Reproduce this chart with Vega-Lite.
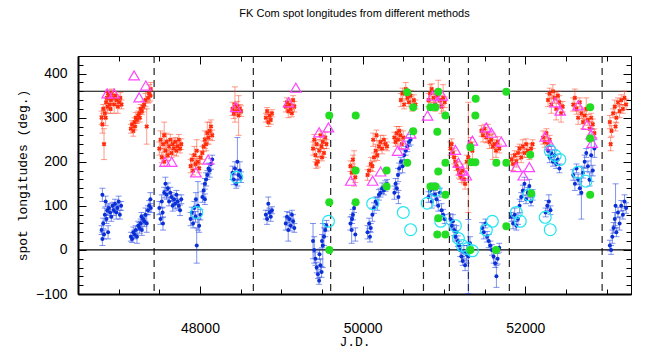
{
"$schema": "https://vega.github.io/schema/vega-lite/v6.json",
"width": 553, "height": 238,
"autosize": {"type": "none"},
"padding": {"left": 78, "top": 56, "right": 15, "bottom": 57},
"background": "white",
"title": {"text": "FK Com spot longitudes from different methods", "font": "Liberation Sans", "fontSize": 11, "fontWeight": "normal", "color": "#000", "offset": 30, "anchor": "middle"},
"config": {"view": {"stroke": "black", "strokeWidth": 1}, "axis": {"grid": false}},
"datasets": {
"vl": [{"t":47436},{"t":48656},{"t":49607},{"t":50748},{"t":51067},{"t":51301},{"t":51804},{"t":52945}],
"hl": [{"l":0},{"l":360}],
"red": [
{"t":46790,"l":300,"e":15},{"t":46800,"l":285,"e":20},{"t":46810,"l":320,"e":10},{"t":46820,"l":240,"e":35},{"t":46830,"l":310,"e":12},{"t":46840,"l":300,"e":18},{"t":46845,"l":335,"e":10},{"t":46855,"l":345,"e":12},{"t":46865,"l":325,"e":15},{"t":46870,"l":355,"e":8},{"t":46880,"l":350,"e":10},{"t":46890,"l":330,"e":12},{"t":46900,"l":320,"e":10},{"t":46905,"l":340,"e":8},{"t":46915,"l":355,"e":10},{"t":46930,"l":345,"e":15},{"t":46945,"l":330,"e":20},{"t":46960,"l":350,"e":10},{"t":46975,"l":340,"e":12},{"t":46990,"l":325,"e":15},{"t":47005,"l":335,"e":10},{"t":47020,"l":345,"e":12},{"t":47035,"l":330,"e":10},
{"t":47150,"l":275,"e":10},{"t":47165,"l":285,"e":8},{"t":47180,"l":270,"e":12},{"t":47195,"l":290,"e":10},{"t":47200,"l":280,"e":8},{"t":47210,"l":300,"e":12},{"t":47225,"l":295,"e":8},{"t":47240,"l":305,"e":10},{"t":47255,"l":310,"e":12},{"t":47260,"l":300,"e":10},{"t":47270,"l":320,"e":10},{"t":47285,"l":315,"e":8},{"t":47300,"l":325,"e":12},{"t":47315,"l":330,"e":10},{"t":47330,"l":340,"e":15},{"t":47345,"l":280,"e":40},{"t":47360,"l":345,"e":12},{"t":47375,"l":355,"e":20},{"t":47390,"l":350,"e":12},{"t":47395,"l":365,"e":15},
{"t":47500,"l":230,"e":15},{"t":47515,"l":250,"e":20},{"t":47530,"l":210,"e":12},{"t":47545,"l":240,"e":25},{"t":47560,"l":260,"e":30},{"t":47560,"l":200,"e":10},{"t":47575,"l":225,"e":15},{"t":47590,"l":245,"e":20},{"t":47605,"l":215,"e":12},{"t":47620,"l":235,"e":15},{"t":47635,"l":250,"e":12},{"t":47650,"l":220,"e":10},{"t":47665,"l":240,"e":12},{"t":47680,"l":230,"e":15},{"t":47695,"l":245,"e":10},{"t":47710,"l":225,"e":12},{"t":47725,"l":235,"e":10},{"t":47740,"l":250,"e":12},{"t":47755,"l":230,"e":10},{"t":47770,"l":240,"e":12},
{"t":47885,"l":190,"e":15},{"t":47900,"l":205,"e":12},{"t":47915,"l":180,"e":10},{"t":47930,"l":215,"e":20},{"t":47945,"l":195,"e":12},{"t":47960,"l":225,"e":25},{"t":47975,"l":200,"e":12},{"t":47990,"l":185,"e":10},{"t":48005,"l":210,"e":15},{"t":48030,"l":220,"e":15},{"t":48045,"l":235,"e":12},{"t":48060,"l":250,"e":20},{"t":48075,"l":240,"e":15},{"t":48090,"l":265,"e":25},{"t":48105,"l":255,"e":15},{"t":48120,"l":270,"e":20},{"t":48135,"l":280,"e":15},{"t":48150,"l":260,"e":12},
{"t":48400,"l":320,"e":15},{"t":48415,"l":310,"e":12},{"t":48430,"l":330,"e":40},{"t":48445,"l":315,"e":10},{"t":48460,"l":325,"e":12},{"t":48475,"l":305,"e":45},{"t":48490,"l":320,"e":10},{"t":48505,"l":315,"e":12},
{"t":48810,"l":300,"e":10},{"t":48825,"l":315,"e":8},{"t":48840,"l":290,"e":10},{"t":48855,"l":305,"e":8},{"t":48870,"l":295,"e":10},{"t":48885,"l":310,"e":8},
{"t":49055,"l":325,"e":12},{"t":49070,"l":335,"e":10},{"t":49085,"l":315,"e":15},{"t":49100,"l":330,"e":12},{"t":49115,"l":320,"e":10},{"t":49130,"l":310,"e":8},{"t":49145,"l":340,"e":10},{"t":49160,"l":325,"e":12},
{"t":49390,"l":230,"e":15},{"t":49405,"l":250,"e":12},{"t":49420,"l":215,"e":15},{"t":49430,"l":195,"e":10},{"t":49435,"l":240,"e":10},{"t":49450,"l":200,"e":12},{"t":49465,"l":225,"e":15},{"t":49480,"l":260,"e":10},{"t":49495,"l":235,"e":12},{"t":49500,"l":210,"e":8},{"t":49510,"l":245,"e":15},{"t":49525,"l":220,"e":10},{"t":49540,"l":255,"e":12},{"t":49555,"l":240,"e":10},
{"t":49850,"l":190,"e":12},{"t":49865,"l":175,"e":15},{"t":49880,"l":205,"e":10},{"t":49895,"l":185,"e":40},{"t":49910,"l":165,"e":12},
{"t":50060,"l":170,"e":12},{"t":50080,"l":180,"e":10},{"t":50100,"l":195,"e":15},{"t":50120,"l":190,"e":12},{"t":50130,"l":250,"e":15},{"t":50140,"l":210,"e":10},{"t":50160,"l":225,"e":15},{"t":50170,"l":260,"e":12},{"t":50180,"l":215,"e":12},{"t":50200,"l":235,"e":10},{"t":50220,"l":245,"e":15},{"t":50240,"l":230,"e":12},{"t":50260,"l":250,"e":10},{"t":50280,"l":240,"e":12},{"t":50300,"l":235,"e":10},
{"t":50390,"l":255,"e":12},{"t":50405,"l":245,"e":10},{"t":50420,"l":265,"e":15},{"t":50435,"l":250,"e":12},{"t":50450,"l":270,"e":10},{"t":50465,"l":260,"e":12},{"t":50480,"l":240,"e":10},{"t":50500,"l":255,"e":15},
{"t":50470,"l":340,"e":15},{"t":50490,"l":355,"e":12},{"t":50510,"l":330,"e":10},{"t":50530,"l":365,"e":15},{"t":50550,"l":345,"e":12},{"t":50570,"l":335,"e":10},{"t":50590,"l":350,"e":12},{"t":50610,"l":325,"e":10},{"t":50630,"l":340,"e":12},{"t":50650,"l":330,"e":10},
{"t":50810,"l":340,"e":15},{"t":50830,"l":355,"e":20},{"t":50850,"l":365,"e":12},{"t":50870,"l":345,"e":10},{"t":50890,"l":330,"e":15},{"t":50910,"l":350,"e":12},{"t":50930,"l":360,"e":25},{"t":50950,"l":340,"e":10},{"t":50970,"l":325,"e":15},{"t":50990,"l":345,"e":30},{"t":51010,"l":335,"e":12},
{"t":51080,"l":230,"e":15},{"t":51095,"l":240,"e":12},{"t":51110,"l":220,"e":10},{"t":51125,"l":210,"e":15},{"t":51140,"l":200,"e":12},{"t":51155,"l":190,"e":10},{"t":51170,"l":185,"e":15},{"t":51185,"l":175,"e":12},{"t":51200,"l":170,"e":10},{"t":51215,"l":165,"e":12},{"t":51230,"l":180,"e":15},{"t":51245,"l":160,"e":10},{"t":51260,"l":150,"e":12},{"t":51280,"l":200,"e":15},{"t":51300,"l":210,"e":125},{"t":51330,"l":240,"e":15},{"t":51350,"l":225,"e":20},
{"t":51460,"l":270,"e":12},{"t":51480,"l":260,"e":15},{"t":51500,"l":275,"e":10},{"t":51520,"l":255,"e":12},{"t":51540,"l":265,"e":20},{"t":51560,"l":245,"e":15},{"t":51580,"l":250,"e":12},{"t":51600,"l":235,"e":30},{"t":51620,"l":240,"e":10},{"t":51640,"l":225,"e":15},{"t":51660,"l":245,"e":12},{"t":51680,"l":230,"e":10},
{"t":51830,"l":205,"e":12},{"t":51850,"l":195,"e":15},{"t":51870,"l":215,"e":10},{"t":51890,"l":200,"e":12},{"t":51910,"l":220,"e":15},{"t":51930,"l":230,"e":10},{"t":51950,"l":210,"e":12},{"t":51970,"l":235,"e":15},{"t":51990,"l":220,"e":10},{"t":52010,"l":240,"e":12},{"t":52030,"l":225,"e":15},{"t":52050,"l":215,"e":10},{"t":52070,"l":230,"e":12},{"t":52090,"l":240,"e":10},
{"t":52220,"l":255,"e":15},{"t":52240,"l":245,"e":12},{"t":52260,"l":265,"e":10},{"t":52280,"l":240,"e":12},{"t":52300,"l":250,"e":10},{"t":52280,"l":340,"e":15},{"t":52300,"l":355,"e":12},{"t":52320,"l":330,"e":20},{"t":52340,"l":360,"e":15},{"t":52360,"l":345,"e":12},{"t":52380,"l":320,"e":25},{"t":52400,"l":350,"e":10},{"t":52420,"l":335,"e":15},{"t":52440,"l":310,"e":20},{"t":52460,"l":325,"e":12},
{"t":52590,"l":330,"e":15},{"t":52610,"l":345,"e":20},{"t":52630,"l":320,"e":12},{"t":52650,"l":300,"e":15},{"t":52670,"l":335,"e":10},{"t":52690,"l":310,"e":12},{"t":52710,"l":290,"e":15},{"t":52730,"l":305,"e":10},{"t":52750,"l":320,"e":25},{"t":52770,"l":295,"e":12},{"t":52790,"l":275,"e":15},{"t":52810,"l":300,"e":10},{"t":52830,"l":285,"e":12},{"t":52850,"l":265,"e":10},
{"t":53040,"l":290,"e":15},{"t":53050,"l":240,"e":15},{"t":53060,"l":270,"e":12},{"t":53080,"l":310,"e":10},{"t":53100,"l":325,"e":15},{"t":53110,"l":280,"e":10},{"t":53120,"l":300,"e":12},{"t":53140,"l":335,"e":10},{"t":53160,"l":315,"e":15},{"t":53180,"l":340,"e":12},{"t":53200,"l":320,"e":10},{"t":53220,"l":345,"e":15},{"t":53240,"l":330,"e":12}
],
"blue": [
{"t":46790,"l":45,"e":10},{"t":46800,"l":25,"e":15},{"t":46800,"l":125,"e":15},{"t":46810,"l":60,"e":12},{"t":46820,"l":35,"e":10},{"t":46830,"l":80,"e":15},{"t":46840,"l":110,"e":12},{"t":46850,"l":70,"e":10},{"t":46860,"l":90,"e":12},{"t":46870,"l":40,"e":15},{"t":46880,"l":95,"e":10},{"t":46895,"l":85,"e":12},{"t":46910,"l":75,"e":10},{"t":46925,"l":100,"e":8},{"t":46940,"l":90,"e":12},{"t":46955,"l":105,"e":10},{"t":46970,"l":85,"e":15},{"t":46985,"l":95,"e":10},{"t":47000,"l":110,"e":12},{"t":47015,"l":80,"e":10},{"t":47030,"l":100,"e":10},
{"t":47150,"l":30,"e":10},{"t":47165,"l":25,"e":8},{"t":47180,"l":40,"e":12},{"t":47195,"l":35,"e":10},{"t":47210,"l":45,"e":10},{"t":47225,"l":30,"e":15},{"t":47240,"l":55,"e":10},{"t":47255,"l":50,"e":12},{"t":47270,"l":60,"e":10},{"t":47280,"l":75,"e":10},{"t":47285,"l":45,"e":12},{"t":47300,"l":70,"e":10},{"t":47315,"l":65,"e":12},{"t":47330,"l":80,"e":15},{"t":47345,"l":60,"e":20},{"t":47360,"l":90,"e":10},{"t":47375,"l":100,"e":12},{"t":47390,"l":115,"e":15},{"t":47395,"l":95,"e":10},
{"t":47500,"l":95,"e":15},{"t":47515,"l":70,"e":12},{"t":47530,"l":110,"e":15},{"t":47540,"l":85,"e":12},{"t":47545,"l":60,"e":15},{"t":47560,"l":130,"e":12},{"t":47575,"l":150,"e":15},{"t":47590,"l":125,"e":10},{"t":47605,"l":140,"e":12},{"t":47620,"l":110,"e":10},{"t":47635,"l":130,"e":12},{"t":47650,"l":120,"e":10},{"t":47665,"l":100,"e":12},{"t":47680,"l":115,"e":10},{"t":47695,"l":105,"e":12},{"t":47710,"l":125,"e":10},{"t":47725,"l":110,"e":15},{"t":47740,"l":100,"e":10},{"t":47755,"l":90,"e":12},{"t":47770,"l":115,"e":10},
{"t":47885,"l":70,"e":15},{"t":47900,"l":85,"e":12},{"t":47915,"l":60,"e":10},{"t":47930,"l":95,"e":15},{"t":47945,"l":75,"e":12},{"t":47950,"l":115,"e":15},{"t":47960,"l":10,"e":40},{"t":47975,"l":100,"e":55},{"t":47990,"l":55,"e":15},{"t":48005,"l":80,"e":12},{"t":48030,"l":120,"e":12},{"t":48045,"l":135,"e":15},{"t":48060,"l":150,"e":12},{"t":48060,"l":115,"e":12},{"t":48075,"l":160,"e":15},{"t":48090,"l":170,"e":10},{"t":48105,"l":185,"e":12},{"t":48120,"l":180,"e":15},{"t":48135,"l":195,"e":12},{"t":48150,"l":205,"e":10},
{"t":48400,"l":175,"e":15},{"t":48415,"l":160,"e":12},{"t":48430,"l":185,"e":15},{"t":48445,"l":150,"e":10},{"t":48460,"l":200,"e":55},{"t":48475,"l":170,"e":12},{"t":48490,"l":180,"e":20},{"t":48505,"l":165,"e":12},
{"t":48810,"l":80,"e":10},{"t":48825,"l":70,"e":12},{"t":48840,"l":105,"e":15},{"t":48855,"l":85,"e":10},{"t":48870,"l":75,"e":10},{"t":48885,"l":90,"e":8},
{"t":49055,"l":60,"e":15},{"t":49070,"l":75,"e":12},{"t":49085,"l":45,"e":25},{"t":49100,"l":70,"e":15},{"t":49115,"l":55,"e":12},{"t":49130,"l":80,"e":10},{"t":49145,"l":65,"e":15},{"t":49160,"l":50,"e":10},
{"t":49390,"l":20,"e":40},{"t":49405,"l":0,"e":30},{"t":49420,"l":-20,"e":15},{"t":49435,"l":-40,"e":12},{"t":49450,"l":-55,"e":10},{"t":49465,"l":-70,"e":8},{"t":49470,"l":-10,"e":12},{"t":49480,"l":-35,"e":15},{"t":49495,"l":-50,"e":12},{"t":49500,"l":20,"e":15},{"t":49510,"l":10,"e":50},{"t":49525,"l":30,"e":20},{"t":49540,"l":45,"e":15},{"t":49555,"l":55,"e":12},
{"t":49850,"l":60,"e":15},{"t":49865,"l":45,"e":30},{"t":49870,"l":70,"e":10},{"t":49880,"l":80,"e":12},{"t":49895,"l":95,"e":10},{"t":49910,"l":35,"e":15},
{"t":50060,"l":40,"e":15},{"t":50080,"l":60,"e":12},{"t":50090,"l":30,"e":12},{"t":50100,"l":50,"e":10},{"t":50120,"l":80,"e":15},{"t":50140,"l":95,"e":12},{"t":50160,"l":110,"e":10},{"t":50180,"l":105,"e":15},{"t":50200,"l":125,"e":12},{"t":50220,"l":130,"e":10},{"t":50240,"l":140,"e":12},{"t":50260,"l":135,"e":10},{"t":50280,"l":145,"e":12},{"t":50300,"l":150,"e":10},
{"t":50390,"l":130,"e":15},{"t":50405,"l":150,"e":12},{"t":50420,"l":140,"e":10},{"t":50435,"l":170,"e":15},{"t":50440,"l":120,"e":15},{"t":50450,"l":185,"e":12},{"t":50470,"l":200,"e":10},{"t":50490,"l":190,"e":15},{"t":50510,"l":215,"e":12},{"t":50530,"l":225,"e":10},{"t":50550,"l":235,"e":12},{"t":50570,"l":245,"e":10},{"t":50590,"l":250,"e":12},
{"t":50810,"l":120,"e":12},{"t":50830,"l":135,"e":10},{"t":50850,"l":110,"e":15},{"t":50870,"l":140,"e":12},{"t":50890,"l":125,"e":10},{"t":50910,"l":115,"e":15},{"t":50930,"l":100,"e":12},{"t":50950,"l":130,"e":10},{"t":50970,"l":90,"e":15},{"t":50990,"l":80,"e":12},{"t":51010,"l":70,"e":10},
{"t":51080,"l":70,"e":12},{"t":51095,"l":55,"e":10},{"t":51110,"l":65,"e":15},{"t":51125,"l":45,"e":12},{"t":51140,"l":30,"e":10},{"t":51155,"l":40,"e":15},{"t":51170,"l":20,"e":12},{"t":51185,"l":10,"e":10},{"t":51200,"l":0,"e":15},{"t":51215,"l":-15,"e":12},{"t":51230,"l":-25,"e":10},{"t":51245,"l":-5,"e":15},{"t":51260,"l":-35,"e":12},{"t":51280,"l":-10,"e":20},{"t":51300,"l":-15,"e":84},{"t":51320,"l":15,"e":15},
{"t":51470,"l":50,"e":12},{"t":51490,"l":40,"e":15},{"t":51510,"l":60,"e":10},{"t":51530,"l":30,"e":12},{"t":51550,"l":20,"e":15},{"t":51570,"l":10,"e":10},{"t":51590,"l":0,"e":12},{"t":51610,"l":-15,"e":15},{"t":51630,"l":-30,"e":10},{"t":51645,"l":-60,"e":25},{"t":51660,"l":-20,"e":12},{"t":51680,"l":5,"e":10},
{"t":51830,"l":75,"e":10},{"t":51850,"l":60,"e":12},{"t":51870,"l":80,"e":15},{"t":51890,"l":55,"e":10},{"t":51910,"l":70,"e":12},{"t":51930,"l":100,"e":15},{"t":51950,"l":120,"e":10},{"t":51970,"l":135,"e":12},{"t":51990,"l":150,"e":15},{"t":52010,"l":115,"e":10},{"t":52030,"l":130,"e":12},{"t":52050,"l":145,"e":15},{"t":52070,"l":110,"e":10},{"t":52090,"l":125,"e":12},
{"t":52250,"l":85,"e":10},{"t":52270,"l":100,"e":12},{"t":52290,"l":110,"e":15},{"t":52310,"l":90,"e":10},{"t":52280,"l":225,"e":10},{"t":52300,"l":210,"e":12},{"t":52320,"l":220,"e":15},{"t":52340,"l":200,"e":10},{"t":52360,"l":215,"e":12},{"t":52380,"l":195,"e":10},{"t":52400,"l":205,"e":12},{"t":52420,"l":185,"e":10},
{"t":52590,"l":170,"e":12},{"t":52610,"l":150,"e":15},{"t":52630,"l":185,"e":10},{"t":52650,"l":160,"e":12},{"t":52670,"l":140,"e":15},{"t":52690,"l":130,"e":60},{"t":52710,"l":175,"e":12},{"t":52730,"l":200,"e":15},{"t":52750,"l":220,"e":10},{"t":52770,"l":190,"e":12},{"t":52790,"l":160,"e":15},{"t":52810,"l":215,"e":60},{"t":52830,"l":180,"e":12},{"t":52850,"l":230,"e":20},
{"t":53040,"l":10,"e":12},{"t":53055,"l":0,"e":10},{"t":53070,"l":30,"e":15},{"t":53085,"l":50,"e":12},{"t":53100,"l":70,"e":15},{"t":53110,"l":100,"e":50},{"t":53120,"l":40,"e":10},{"t":53140,"l":85,"e":12},{"t":53160,"l":60,"e":15},{"t":53180,"l":100,"e":12},{"t":53200,"l":80,"e":10},{"t":53220,"l":110,"e":15},{"t":53240,"l":95,"e":12}
],
"tri": [
{"t":46859,"l":355},{"t":46945,"l":355},{"t":47190,"l":396},{"t":47252,"l":346},{"t":47334,"l":373},{"t":47570,"l":200},{"t":47652,"l":200},{"t":47950,"l":176},{"t":48100,"l":205},{"t":48440,"l":324},{"t":49090,"l":335},{"t":49178,"l":368},{"t":49465,"l":267},{"t":49580,"l":278},{"t":49853,"l":157},{"t":50123,"l":157},{"t":50221,"l":178},{"t":50430,"l":225},{"t":50505,"l":239},{"t":50590,"l":264},{"t":50798,"l":305},{"t":50860,"l":350},{"t":50920,"l":335},{"t":50980,"l":350},{"t":51141,"l":227},{"t":51178,"l":198},{"t":51225,"l":180},{"t":51274,"l":169},{"t":51350,"l":248},{"t":51521,"l":278},{"t":51583,"l":266},{"t":51705,"l":246},{"t":51890,"l":188},{"t":51975,"l":169},{"t":52050,"l":188},{"t":52245,"l":257},{"t":52315,"l":237},{"t":52368,"l":335},{"t":52429,"l":316},{"t":52650,"l":328},{"t":52760,"l":284},{"t":52810,"l":262},{"t":52822,"l":243}
],
"cyan": [
{"t":47960,"l":85},{"t":48450,"l":165},{"t":49580,"l":65},{"t":50123,"l":105},{"t":50500,"l":85},{"t":50590,"l":46},{"t":50795,"l":106},{"t":50895,"l":135},{"t":50960,"l":65},{"t":51141,"l":55},{"t":51178,"l":26},{"t":51225,"l":10},{"t":51288,"l":3},{"t":51350,"l":-2},{"t":51521,"l":45},{"t":51595,"l":65},{"t":51890,"l":85},{"t":51939,"l":65},{"t":52045,"l":125},{"t":52245,"l":74},{"t":52307,"l":46},{"t":52307,"l":225},{"t":52368,"l":214},{"t":52426,"l":205},{"t":52650,"l":176},{"t":52745,"l":156}
],
"green": [
{"t":49590,"l":305},{"t":49590,"l":108},{"t":49590,"l":0},{"t":49915,"l":305},{"t":49914,"l":180},{"t":49914,"l":108},{"t":50295,"l":180},{"t":50295,"l":144},{"t":50548,"l":358},{"t":50622,"l":324},{"t":50622,"l":269},{"t":50548,"l":198},{"t":50834,"l":324},{"t":50896,"l":324},{"t":50930,"l":359},{"t":51018,"l":305},{"t":50918,"l":268},{"t":51018,"l":198},{"t":50930,"l":178},{"t":50834,"l":144},{"t":50896,"l":144},{"t":51018,"l":125},{"t":50930,"l":72},{"t":50918,"l":35},{"t":51018,"l":35},{"t":51325,"l":233},{"t":51337,"l":199},{"t":51386,"l":199},{"t":51386,"l":305},{"t":51390,"l":343},{"t":51325,"l":0},{"t":51644,"l":198},{"t":51767,"l":198},{"t":51767,"l":359},{"t":51767,"l":54},{"t":51640,"l":0},{"t":52061,"l":216},{"t":52073,"l":128},{"t":52798,"l":324},{"t":52798,"l":253},{"t":52798,"l":125}
]
},
"layer": [
{"data": {"name": "vl"}, "mark": {"type": "rule", "color": "#222", "strokeWidth": 1.2, "strokeDash": [7, 5]},
 "encoding": {"x": {"field": "t", "type": "quantitative", "scale": {"domain": [46500, 53300], "nice": false, "zero": false},
   "axis": {"orient": "bottom", "values": [46500,47000,47500,48000,48500,49000,49500,50000,50500,51000,51500,52000,52500,53000],
     "labelExpr": "datum.value % 2000 === 0 ? format(datum.value, 'd') : ''", "labelOverlap": false, "labelFlush": false,
     "tickSize": {"condition": {"test": "datum.value % 2000 === 0", "value": -8}, "value": -5},
     "tickColor": "black", "domainColor": "black", "domainWidth": 2, "labelFont": "Liberation Sans", "labelFontSize": 14, "labelColor": "black", "labelPadding": 35,
     "title": "J.D.", "titleFont": "Liberation Mono", "titleFontSize": 13, "titleFontWeight": "normal", "titleColor": "black", "titlePadding": -3}}}},
{"data": {"name": "hl"}, "mark": {"type": "rule", "color": "black", "strokeWidth": 1.2},
 "encoding": {"y": {"field": "l", "type": "quantitative", "scale": {"domain": [-100, 440], "nice": false, "zero": false},
   "axis": {"orient": "left", "values": [-100,-80,-60,-40,-20,0,20,40,60,80,100,120,140,160,180,200,220,240,260,280,300,320,340,360,380,400,420,440],
     "labelExpr": "datum.value % 100 === 0 ? format(datum.value, 'd') : ''", "labelOverlap": false, "labelFlush": false,
     "tickSize": {"condition": {"test": "datum.value % 100 === 0", "value": -8}, "value": -5},
     "tickColor": "black", "domainColor": "black", "domainWidth": 2, "labelFont": "Liberation Sans", "labelFontSize": 14, "labelColor": "black", "labelPadding": 19,
     "title": "spot longitudes (deg.)", "titleFont": "Liberation Mono", "titleFontSize": 13, "titleFontWeight": "normal", "titleColor": "black", "titlePadding": 6}}}},
{"data": {"name": "red"}, "mark": {"type": "errorbar", "ticks": true, "size": 6, "thickness": 1, "color": "#ff3a1a", "opacity": 0.5},
 "encoding": {"x": {"field": "t", "type": "quantitative", "scale": {"domain": [46500, 53300], "nice": false, "zero": false}, "axis": null},
   "y": {"field": "l", "type": "quantitative", "scale": {"domain": [-100, 440], "nice": false, "zero": false}, "axis": null},
   "yError": {"field": "e"}}},
{"data": {"name": "blue"}, "mark": {"type": "errorbar", "ticks": true, "size": 6, "thickness": 1, "color": "#1a3ce0", "opacity": 0.55},
 "encoding": {"x": {"field": "t", "type": "quantitative", "scale": {"domain": [46500, 53300], "nice": false, "zero": false}, "axis": null},
   "y": {"field": "l", "type": "quantitative", "scale": {"domain": [-100, 440], "nice": false, "zero": false}, "axis": null},
   "yError": {"field": "e"}}},
{"data": {"name": "red"}, "mark": {"type": "point", "shape": "cross", "angle": 45, "filled": true, "size": 22, "color": "#ff2a0a", "opacity": 1},
 "encoding": {"x": {"field": "t", "type": "quantitative", "scale": {"domain": [46500, 53300], "nice": false, "zero": false}, "axis": null},
   "y": {"field": "l", "type": "quantitative", "scale": {"domain": [-100, 440], "nice": false, "zero": false}, "axis": null}}},
{"data": {"name": "blue"}, "mark": {"type": "point", "shape": "circle", "filled": true, "size": 16, "color": "#0b2fd6", "opacity": 1},
 "encoding": {"x": {"field": "t", "type": "quantitative", "scale": {"domain": [46500, 53300], "nice": false, "zero": false}, "axis": null},
   "y": {"field": "l", "type": "quantitative", "scale": {"domain": [-100, 440], "nice": false, "zero": false}, "axis": null}}},
{"data": {"name": "tri"}, "mark": {"type": "point", "shape": "triangle-up", "filled": false, "size": 110, "stroke": "#ff44ff", "strokeWidth": 1.2, "opacity": 1},
 "encoding": {"x": {"field": "t", "type": "quantitative", "scale": {"domain": [46500, 53300], "nice": false, "zero": false}, "axis": null},
   "y": {"field": "l", "type": "quantitative", "scale": {"domain": [-100, 440], "nice": false, "zero": false}, "axis": null}}},
{"data": {"name": "cyan"}, "mark": {"type": "point", "shape": "circle", "filled": false, "size": 140, "stroke": "#22e5f0", "strokeWidth": 1.2, "opacity": 1},
 "encoding": {"x": {"field": "t", "type": "quantitative", "scale": {"domain": [46500, 53300], "nice": false, "zero": false}, "axis": null},
   "y": {"field": "l", "type": "quantitative", "scale": {"domain": [-100, 440], "nice": false, "zero": false}, "axis": null}}},
{"data": {"name": "green"}, "mark": {"type": "point", "shape": "circle", "filled": true, "size": 64, "color": "#22dd22", "opacity": 1},
 "encoding": {"x": {"field": "t", "type": "quantitative", "scale": {"domain": [46500, 53300], "nice": false, "zero": false},
   "axis": {"orient": "top", "values": [46500,47000,47500,48000,48500,49000,49500,50000,50500,51000,51500,52000,52500,53000], "labels": false, "title": null, "domain": false,
     "tickSize": {"condition": {"test": "datum.value % 2000 === 0", "value": -8}, "value": -5}, "tickColor": "black"}},
   "y": {"field": "l", "type": "quantitative", "scale": {"domain": [-100, 440], "nice": false, "zero": false},
   "axis": {"orient": "right", "values": [-100,-80,-60,-40,-20,0,20,40,60,80,100,120,140,160,180,200,220,240,260,280,300,320,340,360,380,400,420,440], "labels": false, "title": null, "domain": false,
     "tickSize": {"condition": {"test": "datum.value % 100 === 0", "value": -8}, "value": -5}, "tickColor": "black"}}}}
],
"resolve": {"axis": {"x": "independent", "y": "independent"}}
}
